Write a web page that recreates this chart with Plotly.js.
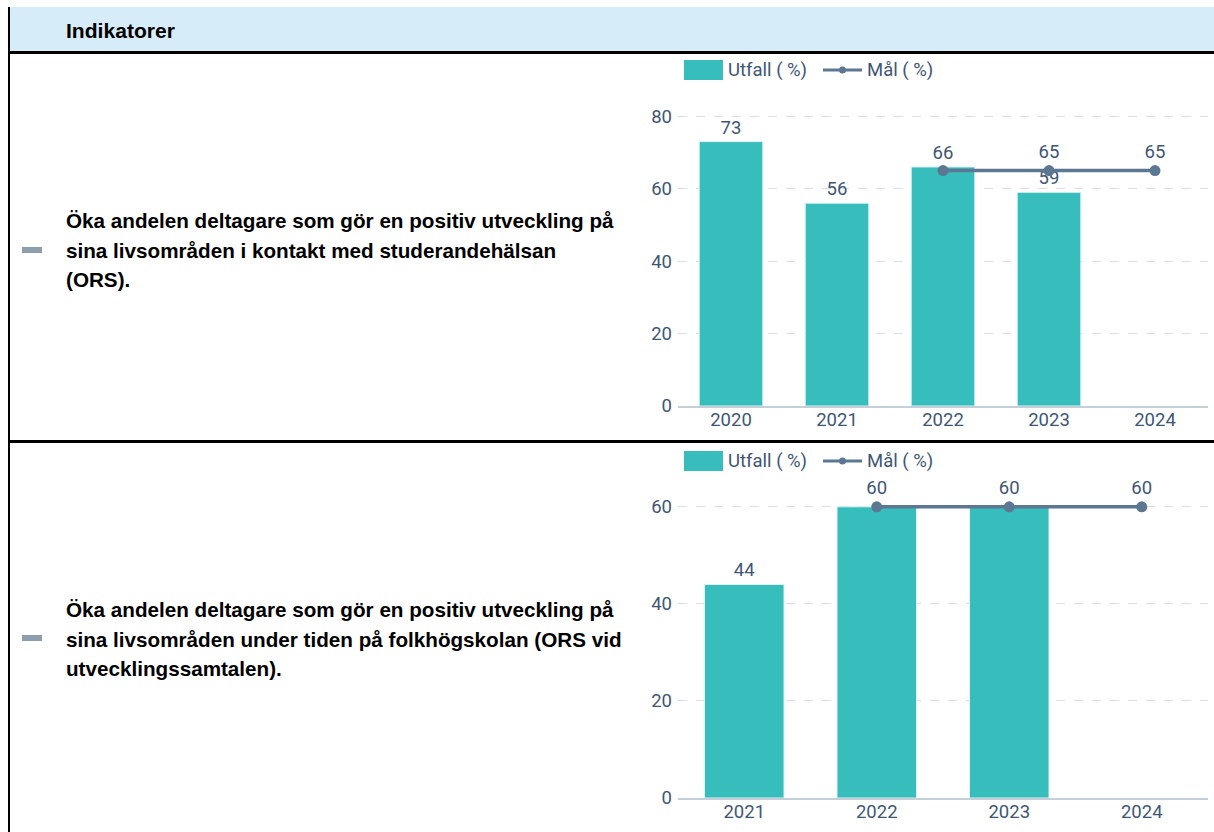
<!DOCTYPE html>
<html><head><meta charset="utf-8">
<script src="https://cdn.plot.ly/plotly-3.0.1.min.js"></script>
<style>
body{margin:0;width:1214px;height:832px;overflow:hidden;background:#fff;position:relative;font-family:"Liberation Sans",Arial,sans-serif;}
.abs{position:absolute;}
.txt{position:absolute;left:66px;font-weight:bold;color:#000;white-space:nowrap;line-height:29.5px;}
.dash{position:absolute;left:22px;width:20px;height:6px;background:#8d9eae;}
</style></head><body>
<div class="abs" style="left:9px;top:7px;width:1205px;height:45px;background:#d6ecf8;"></div>
<div class="abs" style="left:8px;top:7px;width:2px;height:825px;background:#000;"></div>
<div class="abs" style="left:8px;top:51px;width:1206px;height:3px;background:#000;"></div>
<div class="abs" style="left:8px;top:440px;width:1206px;height:3px;background:#000;"></div>
<div class="txt" id="hdr" style="top:17px;font-size:18px;line-height:28px;"><span>Indikatorer</span></div>
<div class="dash" style="top:247px;"></div>
<div class="dash" style="top:635px;"></div>
<div class="txt row" id="r1" style="top:206px;"><span>Öka andelen deltagare som gör en positiv utveckling på</span><br><span>sina livsområden i kontakt med studerandehälsan</span><br><span>(ORS).</span></div>
<div class="txt row" id="r2" style="top:595px;"><span>Öka andelen deltagare som gör en positiv utveckling på</span><br><span>sina livsområden under tiden på folkhögskolan (ORS vid</span><br><span>utvecklingssamtalen).</span></div>
<div id="c1" class="abs" style="left:640px;top:55px;width:574px;height:385px;"></div>
<div id="c2" class="abs" style="left:640px;top:446px;width:574px;height:386px;"></div>
<script>
// fit text size so first line matches reference width
function fit(el, target){
  el.style.fontSize='18px';
  var w=el.querySelector('span').getBoundingClientRect().width;
  el.style.fontSize=(18*target/w).toFixed(2)+'px';
}
document.querySelectorAll('.row').forEach(function(r){ fit(r, 548); });
fit(document.getElementById('hdr'), 109);

// Chart 1 data
var years1 = ['2020','2021','2022','2023','2024'];
var utfall1 = [73, 56, 66, 59, null];
var utfallText1 = ['73','56','66','59',''];
var mal1Years = ['2022','2023','2024'];
var mal1 = [65, 65, 65];
var malText1 = ['', '65', '65'];

// Chart 2 data
var years2 = ['2021','2022','2023','2024'];
var utfall2 = [44, 60, 60, null];
var utfallText2 = ['44','','',''];
var mal2Years = ['2022','2023','2024'];
var mal2 = [60, 60, 60];
var malText2 = ['60','60','60'];

var legendNames = ['Utfall ( %)', 'Mål ( %)'];

var teal='#38bdbd', lineC='#5b7791', txtC='#3e5674';
var fnt={family:'Roboto, sans-serif', size:18.5, color:txtC};

function makeChart(id, H, years, utfall, utText, malYears, mal, malText, yr, ticks, marginT){
  var mL=38, mR=6, mB=34, W=574;
  var pw=W-mL-mR, ph=H-marginT-mB;
  function px(x){ return (x-mL)/pw; }
  function py(y){ return (H-mB-y)/ph; }
  var ly=15; // legend centre y within div
  var traces=[
    {type:'bar', name:legendNames[0], x:years, y:utfall, text:utText, textposition:'outside',
     textfont:fnt, marker:{color:teal, line:{color:'#dff3f3', width:1}}, width:0.6, cliponaxis:false, hoverinfo:'x+y'},
    {type:'scatter', mode:'lines+markers+text', name:legendNames[1], x:malYears, y:mal, text:malText,
     textposition:'top center', textfont:fnt, line:{color:lineC, width:3.5}, marker:{color:lineC, size:11}, cliponaxis:false}
  ];
  var shapes=[
    {type:'rect', xref:'paper', yref:'paper', x0:px(44), x1:px(83), y0:py(ly-10), y1:py(ly+10), fillcolor:teal, line:{width:0}},
    {type:'line', xref:'paper', yref:'paper', x0:px(183), x1:px(222), y0:py(ly), y1:py(ly), line:{color:lineC, width:3}},
    {type:'circle', xref:'paper', yref:'paper', x0:px(199), x1:px(206), y0:py(ly-3.5), y1:py(ly+3.5), fillcolor:lineC, line:{width:0}}
  ];
  var annotations=[
    {xref:'paper', yref:'paper', x:px(86), y:py(ly), xanchor:'left', yanchor:'middle', text:legendNames[0], showarrow:false, font:fnt},
    {xref:'paper', yref:'paper', x:px(225), y:py(ly), xanchor:'left', yanchor:'middle', text:legendNames[1], showarrow:false, font:fnt}
  ];
  var layout={
    width:W, height:H,
    margin:{l:mL, r:mR, t:marginT, b:mB, autoexpand:false},
    paper_bgcolor:'rgba(0,0,0,0)', plot_bgcolor:'rgba(0,0,0,0)',
    font:fnt, showlegend:false,
    shapes:shapes, annotations:annotations,
    xaxis:{type:'category', categoryorder:'array', categoryarray:years, showline:true, linecolor:'#c3cfd9', linewidth:2, ticks:'', tickfont:fnt, ticklabelstandoff:-4, fixedrange:true, showgrid:false, zeroline:false, automargin:false},
    yaxis:{range:yr, tickvals:ticks, showgrid:true, gridcolor:'#d9dfe6', griddash:'dash', gridwidth:1, zeroline:false, showline:false, ticks:'', tickfont:fnt, ticklabelstandoff:5, fixedrange:true, automargin:false}
  };
  Plotly.newPlot(id, traces, layout, {displayModeBar:false, staticPlot:true});
}
makeChart('c1', 385, years1, utfall1, utfallText1, mal1Years, mal1, malText1, [0,82], [0,20,40,60,80], 54);
makeChart('c2', 386, years2, utfall2, utfallText2, mal2Years, mal2, malText2, [0,68], [0,20,40,60], 22);
</script>
</body></html>
